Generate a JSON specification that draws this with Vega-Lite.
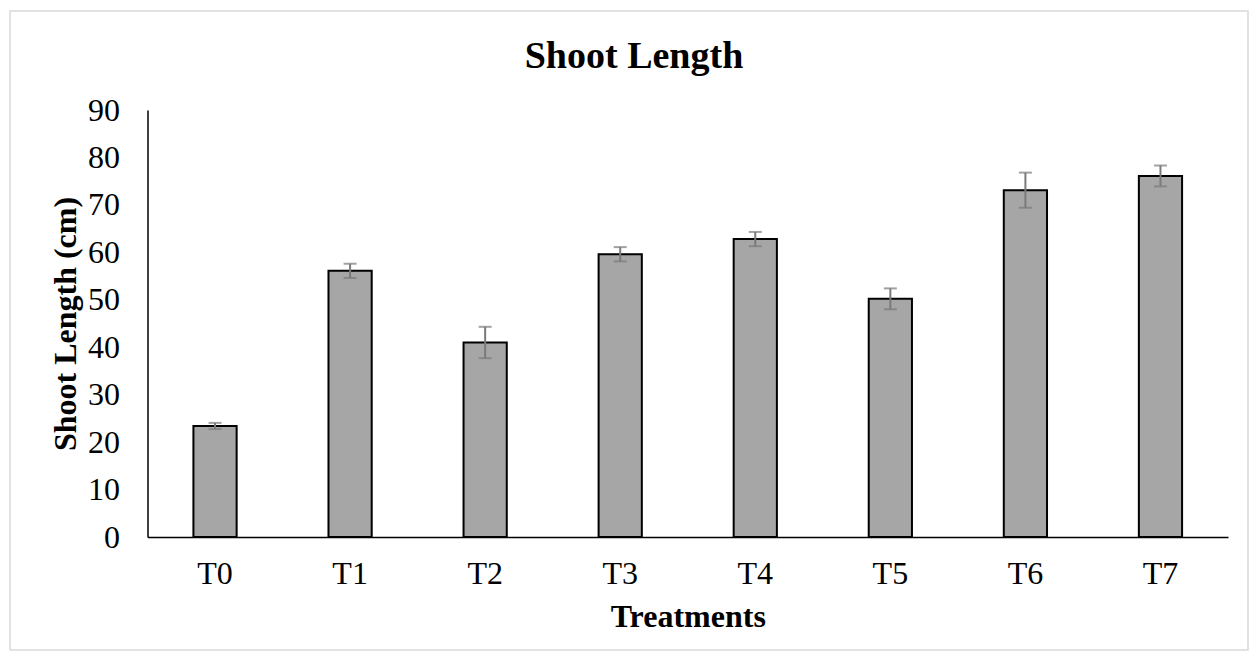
{
  "$schema": "https://vega.github.io/schema/vega-lite/v6.json",
  "width": 1238,
  "height": 639,
  "autosize": {"type": "none"},
  "padding": {"left": 10, "top": 11, "right": 10, "bottom": 12},
  "background": "white",
  "config": {
    "view": {"stroke": "#d9d9d9", "strokeWidth": 1.5},
    "font": "Liberation Serif"
  },
  "title": {
    "text": "Shoot Length",
    "font": "Liberation Serif",
    "fontSize": 38,
    "fontWeight": "bold",
    "color": "black",
    "anchor": "middle",
    "baseline": "alphabetic",
    "offset": -56,
    "dy": 39,
    "dx": 5
  },
  "data": {
    "values": [
      {"treatment": "T0", "value": 23.4, "err": 0.65},
      {"treatment": "T1", "value": 56.1, "err": 1.5},
      {"treatment": "T2", "value": 41.0, "err": 3.3},
      {"treatment": "T3", "value": 59.6, "err": 1.5},
      {"treatment": "T4", "value": 62.8, "err": 1.5},
      {"treatment": "T5", "value": 50.2, "err": 2.2},
      {"treatment": "T6", "value": 73.1, "err": 3.7},
      {"treatment": "T7", "value": 76.1, "err": 2.2}
    ]
  },
  "encoding": {
    "x": {
      "field": "treatment",
      "type": "nominal",
      "sort": null,
      "scale": {"range": [137.5, 1218], "paddingInner": 0, "paddingOuter": 0},
      "axis": {
        "orient": "bottom",
        "offset": -113,
        "ticks": false,
        "tickSize": 0,
        "domainColor": "black",
        "domainWidth": 1.5,
        "labelAngle": 0,
        "labelFont": "Liberation Serif",
        "labelFontSize": 32,
        "labelColor": "black",
        "labelPadding": 21,
        "title": "Treatments",
        "titleFont": "Liberation Serif",
        "titleFontSize": 32,
        "titleFontWeight": "bold",
        "titleColor": "black",
        "titlePadding": 12
      }
    },
    "y": {
      "field": "value",
      "type": "quantitative",
      "scale": {"domain": [0, 90], "range": [526, 99], "nice": false, "zero": true},
      "axis": {
        "orient": "left",
        "offset": -137.5,
        "values": [0, 10, 20, 30, 40, 50, 60, 70, 80, 90],
        "ticks": false,
        "tickSize": 0,
        "grid": false,
        "domainColor": "black",
        "domainWidth": 1.5,
        "labelFont": "Liberation Serif",
        "labelFontSize": 32,
        "labelColor": "black",
        "labelPadding": 28,
        "title": "Shoot Length (cm)",
        "titleFont": "Liberation Serif",
        "titleFontSize": 32,
        "titleFontWeight": "bold",
        "titleColor": "black",
        "titlePadding": 5
      }
    }
  },
  "layer": [
    {
      "mark": {
        "type": "bar",
        "width": {"band": 0.32},
        "fill": "#a6a6a6",
        "stroke": "black",
        "strokeWidth": 2
      }
    },
    {
      "mark": {
        "type": "errorbar",
        "color": "#7a7a7a",
        "thickness": 2,
        "ticks": {"size": 13, "thickness": 2, "color": "#7a7a7a"}
      },
      "encoding": {
        "yError": {"field": "err"}
      }
    }
  ]
}
